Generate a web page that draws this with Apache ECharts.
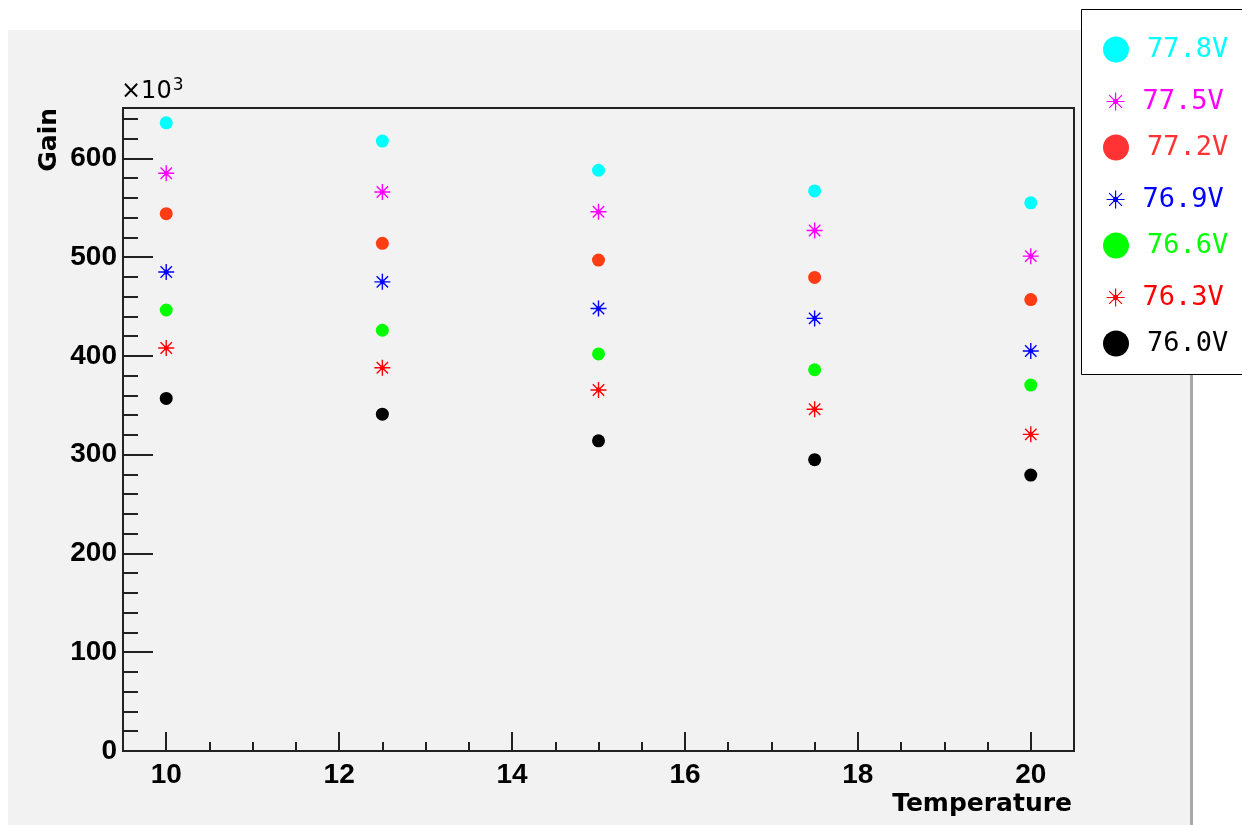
<!DOCTYPE html>
<html>
<head>
<meta charset="utf-8">
<script src="https://cdn.jsdelivr.net/npm/echarts@6/dist/echarts.min.js"></script>
<style>
  html, body { margin: 0; padding: 0; background: #fff; }
  #chart { width: 1242px; height: 825px; }
</style>
</head>
<body>
<div id="chart"></div>
<script>
// temperatures (x)
const temps = [10, 12.5, 15, 17.5, 20]
// gain x10^3 per bias voltage
const gain778 = [636, 617.5, 588, 567, 555]
const gain775 = [585, 566, 546, 527, 501]
const gain772 = [544, 514, 497, 479.5, 457]
const gain769 = [485, 475, 448, 438, 405]
const gain766 = [446.5, 426, 402, 386, 370.5]
const gain763 = [408, 388, 365.5, 346, 320.6]
const gain760 = [357, 341, 314, 295, 279.4]

const voltNames = ['77.8V', '77.5V', '77.2V', '76.9V', '76.6V', '76.3V', '76.0V']
const xMajor = [10, 12, 14, 16, 18, 20]
const xMinor = [10.5, 11, 11.5, 12.5, 13, 13.5, 14.5, 15, 15.5, 16.5, 17, 17.5, 18.5, 19, 19.5]
const yMajor = [0, 100, 200, 300, 400, 500, 600]
const yMinor = [20, 40, 60, 80, 120, 140, 160, 180, 220, 240, 260, 280, 320, 340, 360, 380,
                420, 440, 460, 480, 520, 540, 560, 580, 620, 640]

const STAR = 'path://M0,-8L0,8M-8,0L8,0M-5.7,-5.7L5.7,5.7M-5.7,5.7L5.7,-5.7M-1.6,-1.6L1.6,-1.6L1.6,1.6L-1.6,1.6Z'

// 样式: [颜色, 图例颜色, 是否星形]
const styles = [
    ['#00ffff', '#00ffff', false],
    ['#ff00ff', '#ff00ff', true],
    ['#ff3d14', '#ff3333', false],
    ['#0000ff', '#0000ff', true],
    ['#00ff00', '#00ff00', false],
    ['#ff0000', '#ff0000', true],
    ['#000000', '#000000', false]
]
const gains = [gain778, gain775, gain772, gain769, gain766, gain763, gain760]
const legendCenters = [49, 101, 147, 199, 245, 297, 343]

const chart = echarts.init(document.getElementById('chart'))

const series = gains.map((g, i) => {
    const [color, , star] = styles[i]
    return {
        name: voltNames[i],
        type: 'scatter',
        xAxisIndex: 0,
        yAxisIndex: 0,
        data: temps.map((t, j) => [t, g[j]]),
        symbol: star ? STAR : 'circle',
        symbolSize: star ? 16 : 13,
        itemStyle: star
            ? { color: color, borderColor: color, borderWidth: 1.4, opacity: 1 }
            : { color: color, opacity: 1 },
        emphasis: { disabled: true }
    }
})

// 每个图例单独一个组件, 方便控制图标大小
const legends = voltNames.map((name, i) => {
    const [, lcolor, star] = styles[i]
    const h = star ? 18 : 26
    return {
        orient: 'vertical',
        left: star ? 1106 : 1103,
        top: legendCenters[i] - 13,
        itemWidth: star ? 44 : 52,
        itemHeight: h,
        itemGap: 0,
        padding: 0,
        selectedMode: false,
        data: [{
            name: name,
            icon: star ? STAR : 'circle',
            itemStyle: star ? { color: lcolor, borderColor: lcolor, borderWidth: 1.2 } : { color: lcolor }
        }],
        textStyle: { color: lcolor, fontFamily: 'DejaVu Sans Mono', fontSize: 27, padding: 0 }
    }
})

const tickLabel = { color: '#000', fontFamily: 'Liberation Sans', fontWeight: 'bold', fontSize: 28 }

const option = {
    animation: false,
    backgroundColor: '#ffffff',
    grid: {
        left: 123, top: 108, width: 951, height: 643,
        show: true, borderColor: '#222', borderWidth: 2, backgroundColor: 'transparent',
        outerBoundsMode: 'none', containLabel: false
    },
    xAxis: [
        {
            type: 'value', min: 9.5, max: 20.5, position: 'bottom',
            axisLine: { show: false },
            splitLine: { show: false },
            axisTick: { show: true, inside: true, length: 19, customValues: xMajor, lineStyle: { color: '#222', width: 2 } },
            axisLabel: { ...tickLabel, margin: 10, customValues: xMajor }
        },
        {
            type: 'value', min: 9.5, max: 20.5, position: 'bottom',
            axisLine: { show: false },
            splitLine: { show: false },
            axisTick: { show: true, inside: true, length: 9, customValues: xMinor, lineStyle: { color: '#222', width: 2 } },
            axisLabel: { show: false }
        }
    ],
    yAxis: [
        {
            type: 'value', min: 0, max: 651, position: 'left',
            axisLine: { show: false },
            splitLine: { show: false },
            axisTick: { show: true, inside: true, length: 30, customValues: yMajor, lineStyle: { color: '#222', width: 2 } },
            axisLabel: { ...tickLabel, margin: 6, customValues: yMajor }
        },
        {
            type: 'value', min: 0, max: 651, position: 'left',
            axisLine: { show: false },
            splitLine: { show: false },
            axisTick: { show: true, inside: true, length: 15, customValues: yMinor, lineStyle: { color: '#222', width: 2 } },
            axisLabel: { show: false }
        }
    ],
    legend: legends,
    graphic: [
        { type: 'rect', z: -10, silent: true, shape: { x: 8, y: 30, width: 1182, height: 800 }, style: { fill: '#f2f2f2' } },
        { type: 'rect', z: -9, silent: true, shape: { x: 1190, y: 30, width: 3, height: 800 }, style: { fill: '#a8a8a8' } },
        { type: 'rect', z: -8, silent: true, shape: { x: 1081.5, y: 9.5, width: 180, height: 365 }, style: { fill: '#ffffff', stroke: '#000', lineWidth: 1 } },
        {
            type: 'text', x: 49, y: 108, rotation: Math.PI / 2, silent: true,
            style: { text: 'Gain', fill: '#000', font: 'bold 25px "DejaVu Sans"', align: 'right', verticalAlign: 'middle' }
        },
        {
            type: 'text', x: 1072, y: 804, silent: true,
            style: { text: 'Temperature', fill: '#000', font: 'bold 25px "DejaVu Sans"', align: 'right', verticalAlign: 'middle' }
        },
        {
            type: 'text', x: 121, y: 107, silent: true,
            style: {
                text: '{a|×10}{b|3}', align: 'left', verticalAlign: 'bottom',
                rich: {
                    a: { fontFamily: 'DejaVu Sans', fontSize: 24, fill: '#000' },
                    b: { fontFamily: 'DejaVu Sans', fontSize: 17, fill: '#000', padding: [0, 0, 13, 1] }
                }
            }
        }
    ],
    series: series
}

chart.setOption(option)
</script>
</body>
</html>
